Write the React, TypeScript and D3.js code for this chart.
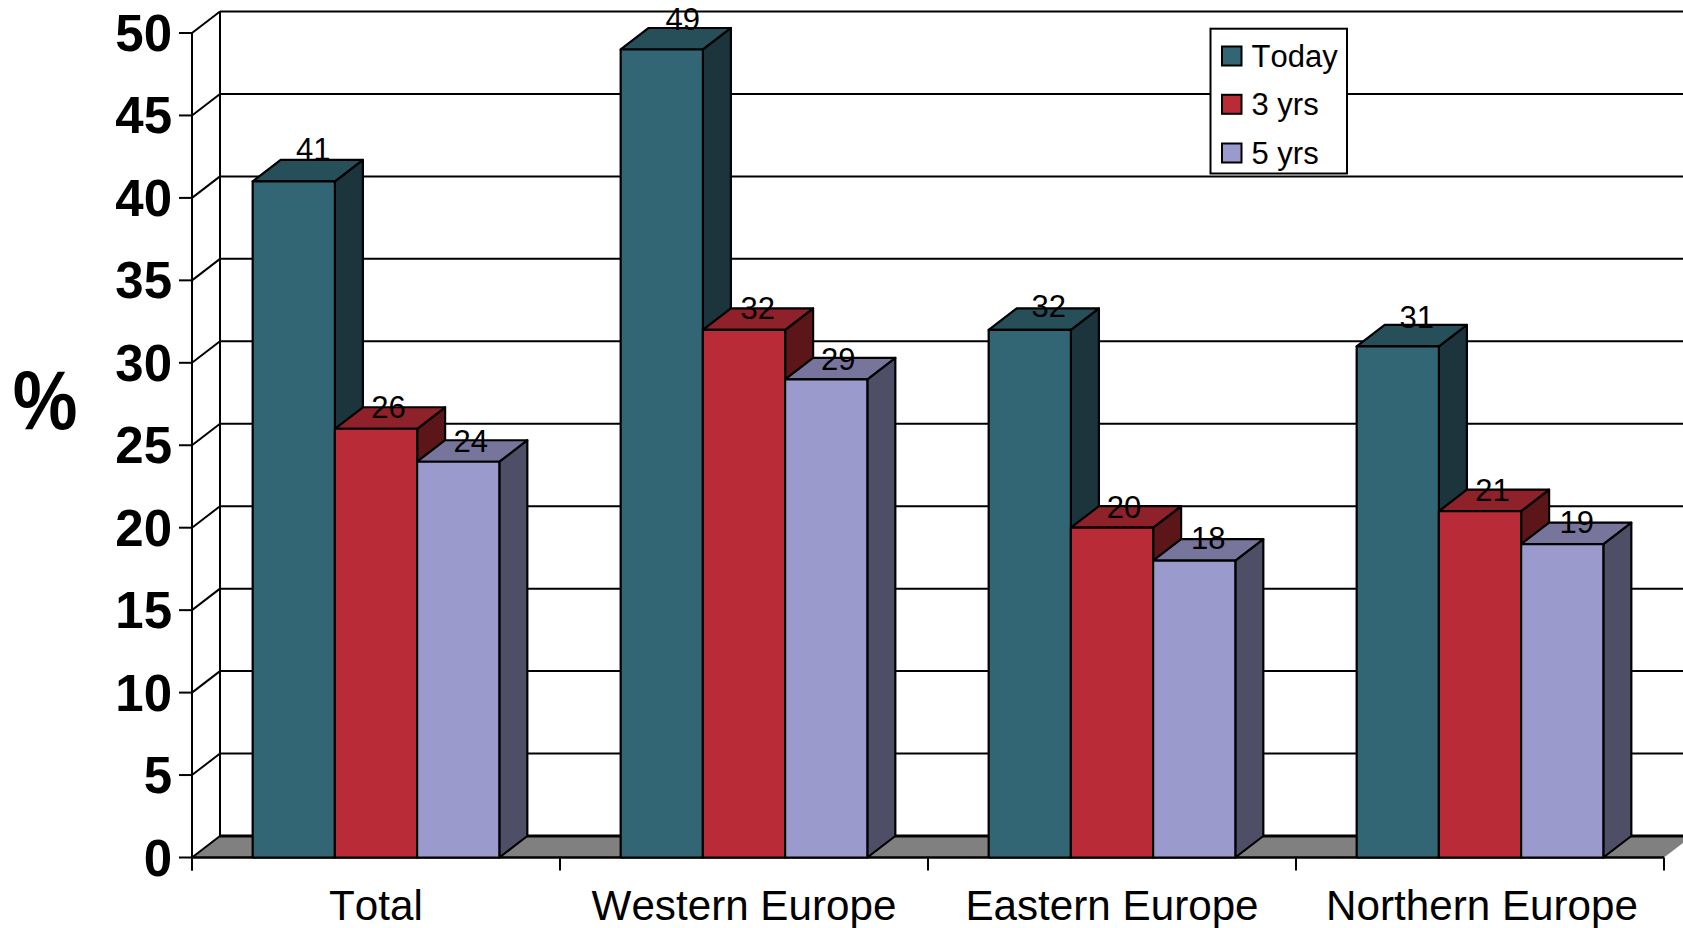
import React from "react";
import * as d3 from "d3";

const categories = ["Total", "Western Europe", "Eastern Europe", "Northern Europe"];
const seriesNames = ["Today", "3 yrs", "5 yrs"];
const today = [41, 49, 32, 31];
const threeYears = [26, 32, 20, 21];
const fiveYears = [24, 29, 18, 19];
const yTicks = [0, 5, 10, 15, 20, 25, 30, 35, 40, 45, 50];

const front = ["#336674", "#b92b37", "#9b9acc"];
const topFace = ["#274f59", "#8f212a", "#77759b"];
const side = ["#1c343c", "#5c1519", "#4f4e67"];
const seriesValues = [today, threeYears, fiveYears];
const labelShiftX = [
  [19.5, 21, 19, 19],
  [12.5, 13.7, 12, 12.5],
  [12.6, 12, 14, 14.5],
];
const labelLift = [
  [21.7, 19.7, 13.3, 18],
  [11, 11, 10, 10],
  [10, 9.6, 12, 10.7],
];

const DX = 28;
const DY = 21.5;
const W = 1683;
const H = 928;

export default function App() {
  const y = d3.scaleLinear().domain([0, 50]).range([857.5, 33]);
  const x0 = d3.scaleBand<string>().domain(categories).range([192, 1664]);
  const x1 = d3
    .scaleBand<string>()
    .domain(seriesNames)
    .range([0, x0.bandwidth()])
    .paddingOuter(0.738)
    .paddingInner(0);
  const bw = x1.bandwidth();
  const sans = "'Liberation Sans', Arial, sans-serif";
  const backX = 192 + DX;
  const backBottom = y(0) - DY;
  const legendY = [56, 104.3, 153];

  return (
    <svg
      width={W}
      height={H}
      viewBox={`0 0 ${W} ${H}`}
      style={{ position: "fixed", left: 0, top: 0, background: "#fff", fontFamily: sans, fontKerning: "none" }}
    >
      <rect width={W} height={H} fill="#fff" />
      {/* floor */}
      <polygon
        points={`192,${y(0)} ${backX},${backBottom} ${1664 + DX},${backBottom} 1664,${y(0)}`}
        fill="#808080"
      />
      {/* grid */}
      {yTicks.map((t) => (
        <line key={t} x1={backX} x2={W} y1={y(t) - DY} y2={y(t) - DY} stroke="#000" strokeWidth={t === 0 ? 3 : 2} />
      ))}
      <line x1={backX} x2={backX} y1={y(50) - DY} y2={backBottom} stroke="#000" strokeWidth={2} />
      {/* y axis */}
      <line x1={192} x2={192} y1={y(50)} y2={y(0) + 13} stroke="#000" strokeWidth={2} />
      {yTicks.map((t) => (
        <g key={t}>
          <line x1={179} x2={192} y1={y(t)} y2={y(t)} stroke="#000" strokeWidth={2} />
          <line x1={192} x2={backX} y1={y(t)} y2={y(t) - DY} stroke="#000" strokeWidth={2} />
          <text x={172} y={y(t) + 18} textAnchor="end" fontSize={51} fontWeight={700} fill="#000">
            {t}
          </text>
        </g>
      ))}
      {/* x axis */}
      <line x1={192} x2={1664} y1={y(0)} y2={y(0)} stroke="#000" strokeWidth={2.5} />
      {x0.domain().map((c) => (
        <line key={c} x1={x0(c)!} x2={x0(c)!} y1={y(0)} y2={y(0) + 13} stroke="#000" strokeWidth={2} />
      ))}
      <line x1={1664} x2={1664} y1={y(0)} y2={y(0) + 13} stroke="#000" strokeWidth={2} />
      {/* bars */}
      {categories.map((c, ci) =>
        seriesNames.map((s, si) => {
          const l = x0(c)! + x1(s)!;
          const r = l + bw;
          const t = y(seriesValues[si][ci]);
          const b = y(0);
          return (
            <g key={s} stroke="#000" strokeWidth={2.2} strokeLinejoin="round">
              <polygon points={`${r},${t} ${r + DX},${t - DY} ${r + DX},${b - DY} ${r},${b}`} fill={side[si]} />
              <polygon points={`${l},${t} ${l + DX},${t - DY} ${r + DX},${t - DY} ${r},${t}`} fill={topFace[si]} />
              <rect x={l} y={t} width={bw} height={b - t} fill={front[si]} />
            </g>
          );
        })
      )}
      {/* value labels */}
      {categories.map((c, ci) =>
        seriesNames.map((s, si) => {
          const v = seriesValues[si][ci];
          const cx = x0(c)! + x1(s)! + bw / 2 + labelShiftX[si][ci];
          return (
            <text key={s} x={cx} y={y(v) - labelLift[si][ci]} textAnchor="middle" fontSize={31} fill="#000">
              {v}
            </text>
          );
        })
      )}
      {/* category labels */}
      {categories.map((c, i) => (
        <text key={c} x={x0(c)! + x0.bandwidth() / 2 + (i === 3 ? 2 : 0)} y={920} textAnchor="middle" fontSize={42.2} fill="#000">
          {c}
        </text>
      ))}
      {/* percent */}
      <text transform="translate(45,429) scale(0.91,1.05)" textAnchor="middle" fontSize={80} fontWeight={700} fill="#000">
        %
      </text>
      {/* legend */}
      <rect x={1210.5} y={28.7} width={136.5} height={144.8} fill="#fff" stroke="#000" strokeWidth={2} />
      {seriesNames.map((s, i) => (
        <g key={s}>
          <rect x={1222} y={legendY[i] - 9.5} width={19.5} height={19} fill={front[i]} stroke="#000" strokeWidth={2} />
          <text x={1251.5} y={legendY[i] + 10.5} fontSize={31} fill="#000">
            {s}
          </text>
        </g>
      ))}
    </svg>
  );
}
